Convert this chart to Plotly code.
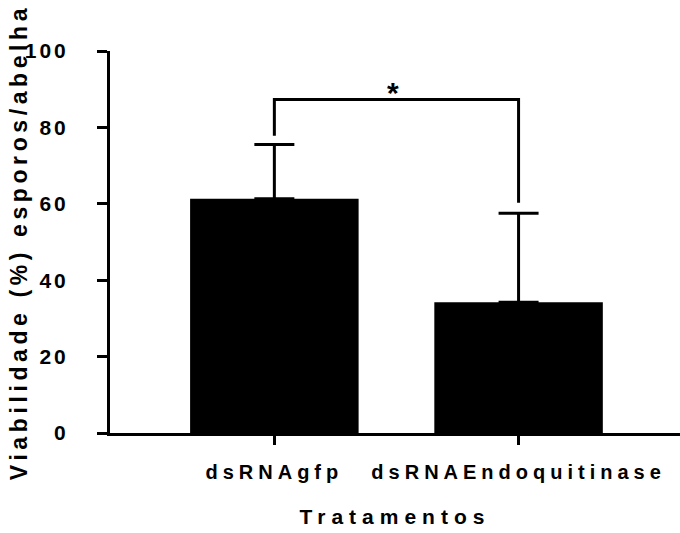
import plotly.graph_objects as go

categories = ["dsRNAgfp", "dsRNAEndoquitinase"]
means = [61.3, 34.2]
sd_upper = [14.2, 23.3]
y_ticks = [0, 20, 40, 60, 80, 100]
sig_label = "*"
sig_bracket_y = 87.3
sig_leg_bottom = [77.8, 60.3]

x_pos = list(range(len(categories)))

fig = go.Figure()
fig.add_trace(go.Bar(
    x=x_pos, y=means, width=0.69,
    marker=dict(color="black", line=dict(width=0)),
    error_y=dict(type="data", array=sd_upper, arrayminus=[0] * len(means),
                 symmetric=False, thickness=3, width=20, color="black"),
))

# significance bracket
fig.add_trace(go.Scatter(
    x=[x_pos[0], x_pos[0], x_pos[1], x_pos[1]],
    y=[sig_leg_bottom[0], sig_bracket_y, sig_bracket_y, sig_leg_bottom[1]],
    mode="lines", line=dict(color="black", width=3), hoverinfo="skip",
))
fig.add_annotation(x=(x_pos[0] + x_pos[1]) / 2, y=sig_bracket_y, text=sig_label,
                   showarrow=False, yanchor="bottom", yshift=-11, xshift=-3,
                   font=dict(size=30, color="black", family="Arial, Liberation Sans", weight="bold"))

font_fam = "Arial, Liberation Sans, sans-serif"
fig.update_layout(
    width=680, height=533,
    margin=dict(l=110, r=0, t=51, b=100),
    paper_bgcolor="white", plot_bgcolor="white",
    showlegend=False,
    font=dict(family=font_fam, color="black", size=20, weight="bold"),
    xaxis=dict(
        range=[-0.673, 1.661], tickmode="array", tickvals=x_pos, ticktext=categories,
        showline=True, linewidth=3, linecolor="black", ticks="outside", ticklen=9,
        tickwidth=3, tickcolor="black", showgrid=False, zeroline=False,
        tickfont=dict(size=20, weight="bold"), ticklabelstandoff=10,
        title=dict(text="Tratamentos", font=dict(size=21, weight="bold"), standoff=28),
        automargin=False,
    ),
    yaxis=dict(
        range=[0, 100], tickvals=y_ticks,
        showline=True, linewidth=3, linecolor="black", ticks="outside", ticklen=10,
        tickwidth=3, tickcolor="black", showgrid=False, zeroline=False,
        tickfont=dict(size=21, weight="bold"), ticklabelstandoff=24,
        title=dict(text="Viabilidade (%) esporos/abelha", font=dict(size=23, weight="bold"), standoff=0),
        automargin=False,
    ),
)

post = """
document.body.style.margin = '0';
var gd = document.getElementById('{plot_id}');
function sp(sel, v) {
  gd.querySelectorAll(sel).forEach(function(t){ t.style.letterSpacing = v; });
}
function applySpacing() {
  sp('.xtick text', '5px');
  sp('.ytick text', '3px');
  sp('.g-xtitle text', '6px');
  sp('.g-ytitle text', '4.6px');
}
applySpacing();
gd.on('plotly_afterplot', applySpacing);
setTimeout(applySpacing, 50);
setTimeout(applySpacing, 300);
"""
fig.write_html("out.html", post_script=post, config={"displayModeBar": False})
